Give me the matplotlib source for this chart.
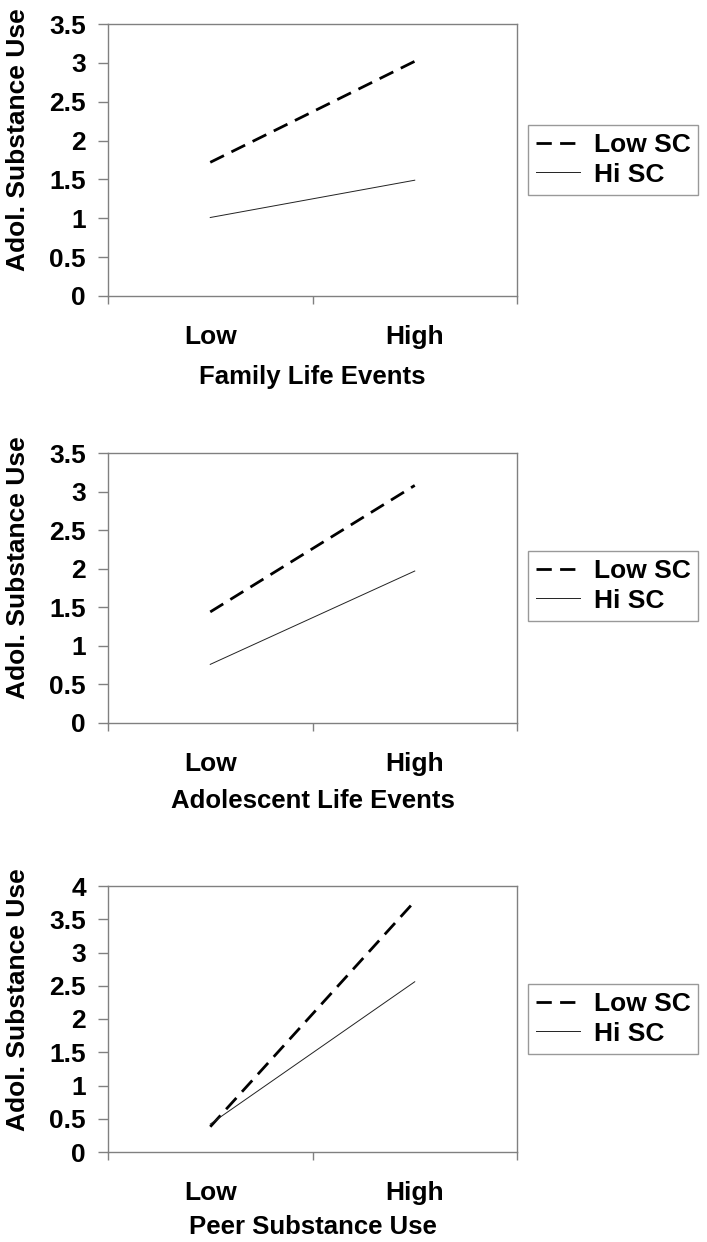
import numpy as np
import matplotlib
matplotlib.use("Agg")
import matplotlib.pyplot as plt

# Simple-slope values
categories = ["Low", "High"]
x_titles = ["Family Life Events", "Adolescent Life Events", "Peer Substance Use"]
low_sc = [[1.72, 3.02], [1.44, 3.08], [0.38, 3.77]]
hi_sc = [[1.01, 1.49], [0.76, 1.97], [0.42, 2.56]]
y_max = [3.5, 3.5, 4.0]
y_label = "Adol. Substance Use"
series_names = ["Low SC", "Hi SC"]

plt.rcParams["font.family"] = ["Liberation Sans", "DejaVu Sans"]
plt.rcParams["font.weight"] = "bold"

fig = plt.figure(figsize=(7.07, 12.42), dpi=100)
W, H = 707, 1242

# axes boxes in pixels: (left, top, right, bottom)
boxes = [(108, 24, 517, 296), (108, 453, 517, 723), (108, 886, 517, 1152)]
xlabel_gap = [81, 78, 75]
legend_centers = [(613, 160), (613, 586), (613, 1019)]
grey = "#808080"

xpos = np.arange(len(categories)) + 0.5

for i, (l, t, r, b) in enumerate(boxes):
    ax = fig.add_axes([l / W, 1 - b / H, (r - l) / W, (b - t) / H])
    ax.plot(xpos, low_sc[i], color="black", lw=2.0, dashes=(5.5, 3), label=series_names[0])
    ax.plot(xpos, hi_sc[i], color="#222222", lw=0.7, label=series_names[1])

    ax.set_xlim(0, 2)
    ax.set_ylim(0, y_max[i])
    yt = np.arange(0, y_max[i] + 0.01, 0.5)
    ax.set_yticks(yt)
    ax.set_yticklabels([f"{v:g}" for v in yt])
    ax.set_xticks([0, 1, 2])
    ax.set_xticklabels([])
    ax.set_xticks(xpos, minor=True)
    ax.set_xticklabels(categories, minor=True)

    for s in ax.spines.values():
        s.set_color(grey)
        s.set_linewidth(1.0)
    ax.tick_params(axis="y", direction="out", length=7, width=1, color=grey,
                   labelsize=19, pad=9)
    ax.tick_params(axis="x", which="major", direction="out", length=6, width=1, color=grey)
    ax.tick_params(axis="x", which="minor", length=0, labelsize=19, pad=21)

    ax.set_xlabel(x_titles[i], fontsize=18.5, fontweight="bold", va="center")
    ax.xaxis.set_label_coords(0.5, -xlabel_gap[i] / (b - t))
    ax.set_ylabel(y_label, fontsize=19, fontweight="bold", va="center")
    ax.yaxis.set_label_coords(-0.22, 0.574)

    cx, cy = legend_centers[i]
    leg = ax.legend(loc="center", bbox_to_anchor=(cx / W, 1 - cy / H),
                    bbox_transform=fig.transFigure, fontsize=19, frameon=True,
                    fancybox=False, edgecolor=grey, handlelength=1.7,
                    handletextpad=0.5, borderpad=0.3, labelspacing=0.2,
                    borderaxespad=0)
    leg.get_frame().set_linewidth(1.0)
    for txt in leg.get_texts():
        txt.set_fontweight("bold")

fig.savefig("out.png", dpi=100)
